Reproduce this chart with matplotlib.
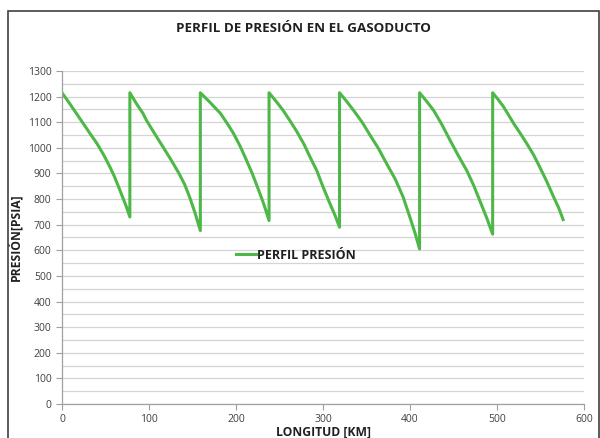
import matplotlib
matplotlib.use("Agg")
import matplotlib.pyplot as plt
from matplotlib.patches import Rectangle
from matplotlib.ticker import MultipleLocator

plt.rcParams['font.family'] = ['Open Sans', 'DejaVu Sans']

# Data (km, psia)
longitud_km = [0, 9, 16, 24, 32, 40, 48, 55, 60, 65, 70, 74, 78,
               78, 86, 93, 97, 106, 116, 125, 134, 141, 147, 153, 159,
               159, 170, 182, 190, 197, 205, 212, 219, 226, 232, 238,
               238, 246, 254, 262, 270, 278, 285, 293, 300, 308, 314, 319,
               319, 327, 335, 345, 354, 364, 373, 383, 392, 400, 406, 411,
               411, 419, 427, 436, 446, 455, 465, 473, 480, 488, 495,
               495, 501, 507, 513, 519, 527, 534, 542, 549, 557, 565, 571, 576]
presion_psia = [1215, 1172, 1137, 1097, 1057, 1018, 972, 926, 890, 848, 805, 770, 730,
                1215, 1170, 1135, 1108, 1058, 1004, 955, 903, 857, 805, 745, 677,
                1215, 1178, 1135, 1095, 1057, 1005, 952, 897, 835, 780, 716,
                1215, 1182, 1147, 1106, 1063, 1015, 965, 910, 848, 782, 735, 690,
                1215, 1182, 1147, 1100, 1050, 996, 939, 878, 809, 728, 665, 605,
                1215, 1182, 1147, 1095, 1030, 973, 913, 855, 796, 728, 663,
                1215, 1190, 1163, 1130, 1096, 1055, 1018, 973, 926, 870, 809, 765, 720]
series_label = "PERFIL PRESIÓN"
title = "PERFIL DE PRESIÓN EN EL GASODUCTO"
xlabel = "LONGITUD [KM]"
ylabel = "PRESIÓN[PSIA]"

fig = plt.figure(figsize=(6, 4.38), dpi=100)
fig.patch.set_facecolor('white')
ax = fig.add_axes([62/600, 1-404/438, (584-62)/600, (404-71)/438])

ax.plot(longitud_km, presion_psia, color='#4DB848', lw=2.2,
        solid_joinstyle='round', label=series_label)

ax.set_xlim(0, 600)
ax.set_ylim(0, 1300)
ax.xaxis.set_major_locator(MultipleLocator(100))
ax.yaxis.set_major_locator(MultipleLocator(100))
ax.yaxis.set_minor_locator(MultipleLocator(50))
ax.grid(True, which='both', axis='y', color='#d4d4d4', lw=0.9)
ax.set_axisbelow(True)
for s in ['top', 'right']:
    ax.spines[s].set_visible(False)
for s in ['left', 'bottom']:
    ax.spines[s].set_color('#a0a0a0')
    ax.spines[s].set_linewidth(0.9)
ax.tick_params(axis='both', which='major', labelsize=7.5, colors='#a0a0a0',
               labelcolor='#404040', length=4, width=0.8)
ax.tick_params(axis='y', which='minor', length=0)

ax.set_xlabel(xlabel, fontsize=8.7, fontweight='bold', color='#202020', labelpad=0)
ax.set_ylabel(ylabel, fontsize=8.7, fontweight='bold', color='#202020', labelpad=4)
fig.text(0.505, 1-28/438, title, ha='center', va='center', fontsize=9.6,
         fontweight='bold', color='#202020')

leg = ax.legend(loc='center', bbox_to_anchor=(0.448, 0.447), frameon=False,
                prop={'size': 9, 'weight': 'bold'}, handlelength=1.6,
                handletextpad=0.1)
for t in leg.get_texts():
    t.set_color('#202020')

fig.add_artist(Rectangle((8/600, -0.02), 591/600, 1-11/438+0.02,
                         transform=fig.transFigure, fill=False,
                         edgecolor='#404040', lw=1.2))

fig.savefig('out.png', dpi=100)
